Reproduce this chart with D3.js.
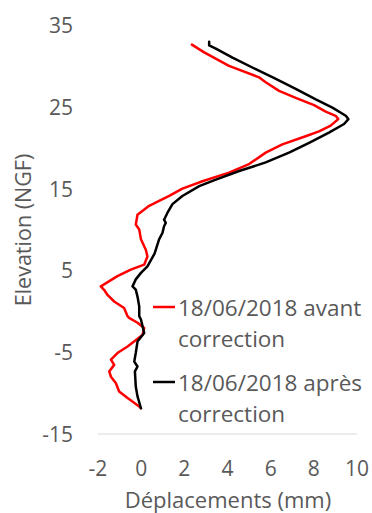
<!DOCTYPE html>
<html>
<head>
<meta charset="utf-8">
<script src="https://cdn.jsdelivr.net/npm/d3@7"></script>
<style>
  html, body { margin: 0; padding: 0; background: #fff; }
  svg text { font-family: "Open Sans", "Noto Sans", sans-serif; fill: #595959; }
</style>
</head>
<body>
<svg id="chart" width="372" height="513"></svg>
<script>
// Inclinometer profile: displacement (mm) vs elevation (NGF)
const seriesNames = ["18/06/2018 avant correction", "18/06/2018 après correction"];
const seriesColors = ["#ff0000", "#000000"];

// before correction: [displacement mm, elevation m]
const avantDisp = [2.35, 2.92, 4.07, 5.46, 5.77, 6.39, 7.16, 8.01, 8.55, 9.01, 9.13, 8.78, 8.24, 7.62, 6.54, 5.77, 5.0, 4.07, 2.84, 1.91, 1.30, 0.83, 0.37, -0.17, -0.25, -0.09, -0.01, 0.22, 0.29, 0.14, -0.48, -1.10, -1.87, -1.71, -1.56, -1.25, -0.79, -0.63, -0.56, -0.17, 0.14, 0.06, -0.63, -1.10, -1.40, -1.25, -1.48, -1.40, -1.17, -1.02, -0.63, -0.09, -0.01];
const avantElev = [32.6, 31.65, 30.0, 28.6, 28.0, 26.95, 26.1, 25.2, 24.4, 23.9, 23.5, 22.7, 22.0, 21.4, 20.4, 19.4, 18.0, 16.95, 15.9, 15.0, 14.1, 13.5, 12.9, 11.8, 10.6, 10.0, 8.8, 7.5, 6.7, 5.7, 5.1, 4.3, 3.05, 2.6, 2.0, 1.2, 0.4, -0.6, -0.8, -1.4, -2.05, -2.9, -4.3, -5.1, -5.9, -6.55, -7.35, -8.0, -8.8, -9.8, -10.6, -11.65, -11.85];

// after correction
const apresDisp = [3.15, 3.15, 3.46, 4.23, 5.31, 6.24, 7.16, 8.09, 8.86, 9.48, 9.60, 9.40, 8.70, 7.78, 6.85, 5.77, 4.54, 3.46, 2.69, 1.91, 1.45, 1.22, 1.06, 1.14, 1.06, 0.99, 0.83, 0.62, 0.29, -0.01, -0.25, -0.40, -0.25, -0.17, -0.09, -0.09, -0.01, 0.14, -0.17, -0.25, -0.32, -0.17, -0.29, -0.25, -0.17, -0.01];
const apresElev = [32.95, 32.5, 32.1, 31.0, 29.6, 28.4, 27.2, 25.9, 24.9, 23.9, 23.5, 22.9, 21.85, 20.6, 19.4, 18.2, 17.15, 16.1, 15.3, 14.1, 13.1, 12.05, 11.2, 10.8, 10.4, 9.6, 8.8, 7.05, 5.5, 4.7, 3.9, 3.05, 2.65, 1.8, 0.6, -0.6, -1.0, -2.65, -3.7, -5.1, -6.15, -6.75, -7.35, -9.2, -10.4, -11.85];

const xTicks = [-2, 0, 2, 4, 6, 8, 10];
const yTicks = [-15, -5, 5, 15, 25, 35];

const svg = d3.select("#chart");
const x = d3.scaleLinear().domain([-2, 10]).range([98, 357]);
const y = d3.scaleLinear().domain([-15, 35]).range([434, 25]);

// bottom axis line
svg.append("line")
  .attr("x1", x(-2)).attr("x2", x(10))
  .attr("y1", y(-15)).attr("y2", y(-15))
  .attr("stroke", "#d9d9d9").attr("stroke-width", 1);

// x tick labels
svg.append("g").selectAll("text").data(xTicks).join("text")
  .attr("x", d => x(d)).attr("y", 476)
  .attr("text-anchor", "middle").attr("font-size", 21)
  .text(d => d);

// y tick labels
svg.append("g").selectAll("text").data(yTicks).join("text")
  .attr("x", 73).attr("y", d => y(d) + 8)
  .attr("text-anchor", "end").attr("font-size", 21)
  .text(d => d);

// axis titles
svg.append("text")
  .attr("x", 228).attr("y", 508)
  .attr("text-anchor", "middle").attr("font-size", 22)
  .text("Déplacements (mm)");
svg.append("text")
  .attr("transform", "translate(31,230) rotate(-90)")
  .attr("text-anchor", "middle").attr("font-size", 21.5)
  .text("Elevation (NGF)");

// profiles
const line = d3.line().x(d => x(d[0])).y(d => y(d[1])).curve(d3.curveLinear);
const series = [
  d3.zip(avantDisp, avantElev),
  d3.zip(apresDisp, apresElev)
];
series.forEach((pts, i) => {
  svg.append("path").datum(pts)
    .attr("d", line)
    .attr("fill", "none")
    .attr("stroke", seriesColors[i])
    .attr("stroke-width", 2.5)
    .attr("stroke-linejoin", "round")
    .attr("stroke-linecap", "round");
});

// legend
const legendY = [307, 382];
const legend = svg.append("g");
seriesNames.forEach((name, i) => {
  legend.append("line")
    .attr("x1", 153).attr("x2", 175)
    .attr("y1", legendY[i]).attr("y2", legendY[i])
    .attr("stroke", seriesColors[i]).attr("stroke-width", 2.5);
  const parts = [name.replace(/ correction$/, ""), "correction"];
  parts.forEach((p, j) => {
    legend.append("text")
      .attr("x", 178).attr("y", legendY[i] + 9 + j * 31)
      .attr("font-size", 22.5)
      .text(p);
  });
});
</script>
</body>
</html>
